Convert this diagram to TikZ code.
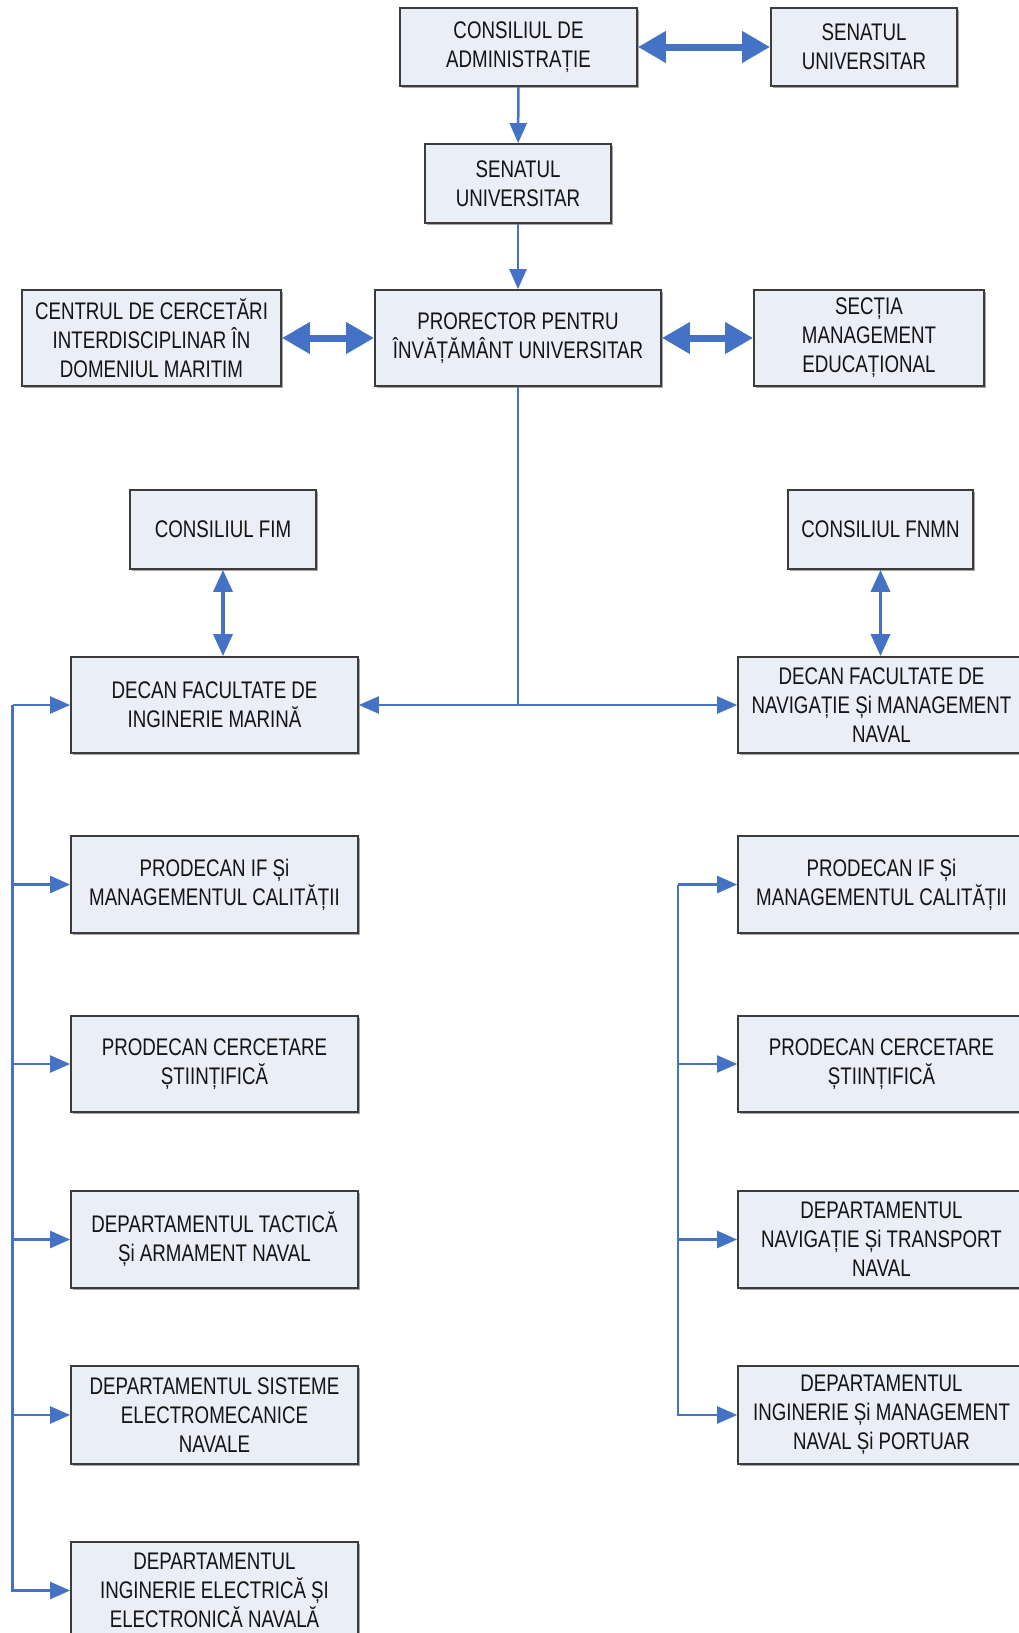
\documentclass[tikz,border=0pt]{standalone}
\usepackage{fontspec}
\setmainfont{Liberation Sans}[FakeStretch=0.78]
\usepackage{xcolor}
\usepackage{tikz}
\usetikzlibrary{positioning}
\usetikzlibrary{arrows.meta}
\usetikzlibrary{shadows}

\definecolor{boxfill}{HTML}{E9EEF7}
\definecolor{boxline}{HTML}{3C3C3C}
\definecolor{linkblue}{HTML}{4472C4}

\tikzset{
	box/.style={draw=boxline, fill=boxfill, line width=1.8pt,
		align=center, inner sep=2pt, text=black!92,
		font=\fontsize{24}{29}\selectfont,
		drop shadow={shadow xshift=1.5pt, shadow yshift=-1.5pt, fill=black!35, opacity=1}},
	link/.style={draw=linkblue, line width=2.5pt,
		-{Triangle[length=20pt, width=17pt]}},
	midlink/.style={draw=linkblue, line width=3.5pt,
		{Triangle[length=22pt, width=19pt]}-{Triangle[length=22pt, width=19pt]}},
	biglink/.style={draw=linkblue, line width=7pt,
		{Triangle[length=28pt, width=30pt]}-{Triangle[length=28pt, width=30pt]}}
}

\begin{document}
\begin{tikzpicture}[x=1pt, y=-1pt]
		\useasboundingbox [fill=white] (0,0) rectangle (1019,1633);

		% top
		\node [box, minimum width=237pt, minimum height=78pt] (cda) at (518.5,47)
			{CONSILIUL DE\\ADMINISTRAȚIE};
		\node [box, minimum width=186pt, minimum height=78pt] (senR) at (864,47)
			{SENATUL\\UNIVERSITAR};
		\node [box, minimum width=186pt, minimum height=79pt] (sen) at (518,183.5)
			{SENATUL\\UNIVERSITAR};
		\node [box, minimum width=286pt, minimum height=96pt] (pro) at (518,338)
			{PRORECTOR PENTRU\\ÎNVĂȚĂMÂNT UNIVERSITAR};
		\node [box, minimum width=259pt, minimum height=96pt] (centru) at (151.5,338)
			{CENTRUL DE CERCETĂRI\\INTERDISCIPLINAR ÎN\\DOMENIUL MARITIM};
		\node [box, minimum width=230pt, minimum height=96pt] (sectia) at (869,338)
			{SECȚIA\\MANAGEMENT\\EDUCAȚIONAL};

		% faculties
		\node [box, minimum width=186pt, minimum height=79pt] (cfim) at (223,529.5)
			{CONSILIUL FIM};
		\node [box, minimum width=185pt, minimum height=79pt] (cfnmn) at (880.5,529.5)
			{CONSILIUL FNMN};
		\node [box, minimum width=287pt, minimum height=96pt] (decanL) at (214.5,705)
			{DECAN FACULTATE DE\\INGINERIE MARINĂ};
		\node [box, minimum width=287pt, minimum height=96pt] (decanR) at (881.5,705)
			{DECAN FACULTATE DE\\NAVIGAȚIE Și MANAGEMENT\\NAVAL};

		% left column
		\node [box, minimum width=287pt, minimum height=97pt] (pifL) at (214.5,884.5)
			{PRODECAN IF Și\\MANAGEMENTUL CALITĂȚII};
		\node [box, minimum width=287pt, minimum height=96pt] (pcL) at (214.5,1064)
			{PRODECAN CERCETARE\\ȘTIINȚIFICĂ};
		\node [box, minimum width=287pt, minimum height=97pt] (dtan) at (214.5,1239.5)
			{DEPARTAMENTUL TACTICĂ\\Și ARMAMENT NAVAL};
		\node [box, minimum width=287pt, minimum height=98pt] (dsen) at (214.5,1415)
			{DEPARTAMENTUL SISTEME\\ELECTROMECANICE\\NAVALE};
		\node [box, minimum width=287pt, minimum height=97pt] (dien) at (214.5,1590.5)
			{DEPARTAMENTUL\\INGINERIE ELECTRICĂ ȘI\\ELECTRONICĂ NAVALĂ};

		% right column
		\node [box, minimum width=287pt, minimum height=97pt] (pifR) at (881.5,884.5)
			{PRODECAN IF Și\\MANAGEMENTUL CALITĂȚII};
		\node [box, minimum width=287pt, minimum height=96pt] (pcR) at (881.5,1064)
			{PRODECAN CERCETARE\\ȘTIINȚIFICĂ};
		\node [box, minimum width=287pt, minimum height=97pt] (dntn) at (881.5,1239.5)
			{DEPARTAMENTUL\\NAVIGAȚIE Și TRANSPORT\\NAVAL};
		\node [box, minimum width=287pt, minimum height=98pt] (dimnp) at (881.5,1415)
			{DEPARTAMENTUL\\INGINERIE Și MANAGEMENT\\NAVAL Și PORTUAR};

		\coordinate (busL) at (12.5,705);
		\coordinate (busR) at (678,884.5);

		\path
			(cda) edge [biglink] (senR)
			(cda) edge [link] (sen)
			(sen) edge [link] (pro)
			(centru) edge [biglink] (pro)
			(pro) edge [biglink] (sectia)
			(cfim.south) edge [midlink] (cfim.south |- decanL.north)
			(cfnmn.south) edge [midlink] (cfnmn.south |- decanR.north);
		\draw [link] (pro.south) |- (decanL.east);
		\draw [link] (pro.south) |- (decanR.west);

		\foreach \n in {decanL, pifL, pcL, dtan, dsen, dien}
			\draw [link] (busL) |- (\n.west);
		\foreach \n in {pifR, pcR, dntn, dimnp}
			\draw [link] (busR) |- (\n.west);
	\end{tikzpicture}
\end{document}
